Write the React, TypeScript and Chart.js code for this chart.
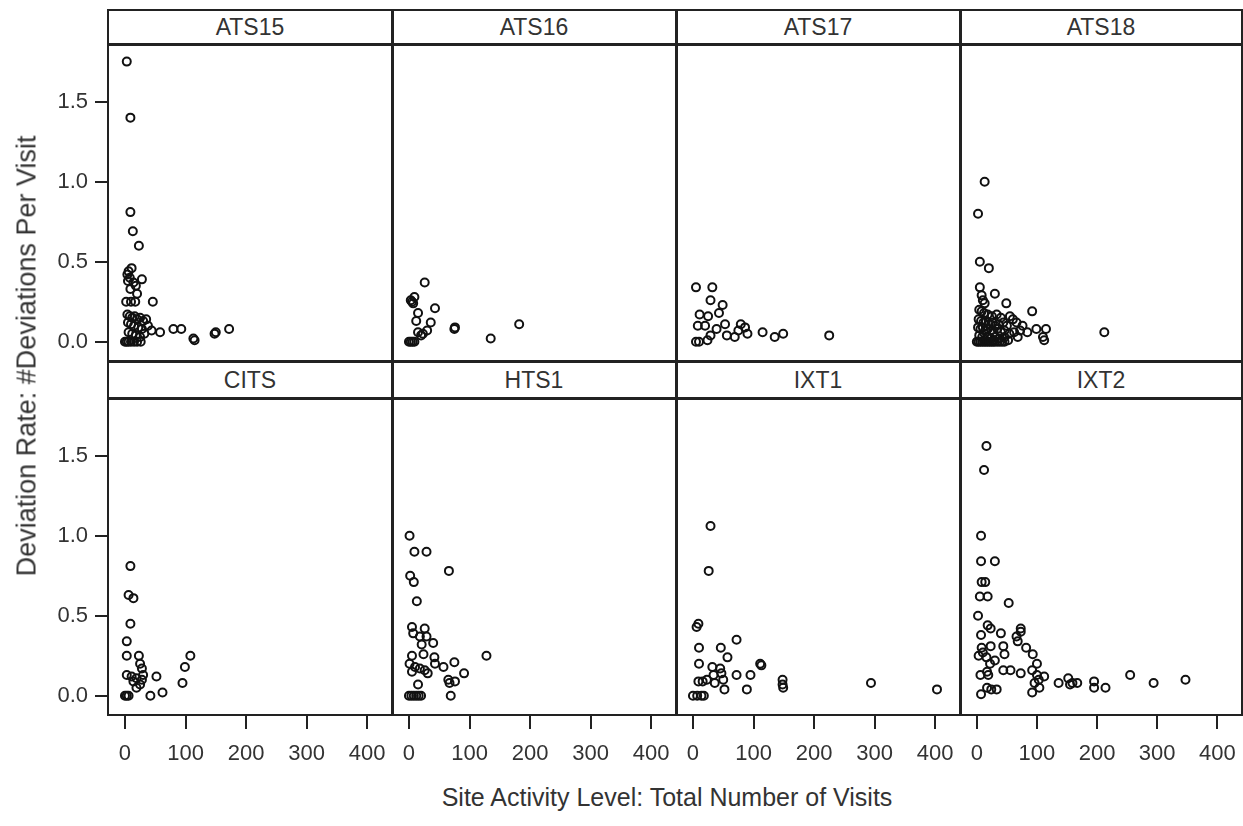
import React, { useEffect, useRef } from "react";
import { Chart, registerables } from "chart.js";

Chart.register(...registerables);

// ---------------- data ----------------
const panelNames = ["ATS15", "ATS16", "ATS17", "ATS18", "CITS", "HTS1", "IXT1", "IXT2"];
const xTicks = [0, 100, 200, 300, 400];
const yTicks = [0, 0.5, 1.0, 1.5];
const xTitle = "Site Activity Level: Total Number of Visits";
const yTitle = "Deviation Rate: #Deviations Per Visit";

// [total visits, deviations per visit]
const ats15: [number, number][] = [
  [3, 1.75], [9, 1.4], [9, 0.81], [13, 0.69], [23, 0.6],
  [11, 0.46], [6, 0.44], [4, 0.42], [8, 0.4], [5, 0.38], [14, 0.37], [28, 0.39], [18, 0.35], [9, 0.33], [20, 0.3],
  [2, 0.25], [10, 0.25], [17, 0.25], [46, 0.25],
  [4, 0.17], [8, 0.16], [12, 0.15], [16, 0.16], [20, 0.14], [25, 0.15], [30, 0.13], [35, 0.14],
  [5, 0.12], [10, 0.11], [15, 0.1], [22, 0.09], [28, 0.08], [38, 0.1], [44, 0.07], [58, 0.06], [80, 0.08], [93, 0.08],
  [6, 0.06], [12, 0.05], [18, 0.04], [25, 0.03], [32, 0.05],
  [115, 0.01], [113, 0.02], [148, 0.05], [150, 0.06], [172, 0.08],
  [0, 0], [3, 0], [6, 0], [10, 0], [15, 0], [20, 0], [26, 0],
];
const ats16: [number, number][] = [
  [26, 0.37], [9, 0.28], [3, 0.26], [5, 0.25], [7, 0.24], [43, 0.21], [15, 0.18], [12, 0.13], [36, 0.12],
  [15, 0.06], [23, 0.05], [30, 0.07], [20, 0.04], [75, 0.08], [76, 0.09], [135, 0.02], [182, 0.11],
  [0, 0], [3, 0], [6, 0], [9, 0],
];
const ats17: [number, number][] = [
  [5, 0.34], [32, 0.34], [29, 0.26], [49, 0.23], [43, 0.18], [11, 0.17], [25, 0.16],
  [8, 0.1], [20, 0.1], [39, 0.08], [53, 0.11], [79, 0.11], [86, 0.09], [90, 0.05], [75, 0.07],
  [56, 0.04], [69, 0.03], [29, 0.04], [115, 0.06], [135, 0.03], [149, 0.05], [225, 0.04],
  [5, 0], [10, 0], [24, 0.01],
];
const ats18: [number, number][] = [
  [13, 1.0], [2, 0.8], [5, 0.5], [20, 0.46], [5, 0.34], [30, 0.3], [8, 0.29], [10, 0.26], [13, 0.24], [49, 0.24], [92, 0.19],
  [4, 0.2], [8, 0.19], [12, 0.18], [18, 0.17], [25, 0.16], [33, 0.17], [40, 0.15], [55, 0.16], [60, 0.14],
  [3, 0.14], [7, 0.13], [11, 0.12], [15, 0.13], [20, 0.11], [26, 0.12], [30, 0.1], [36, 0.11], [44, 0.12], [50, 0.1], [66, 0.12], [76, 0.1],
  [2, 0.09], [6, 0.08], [10, 0.09], [14, 0.07], [18, 0.08], [24, 0.07], [28, 0.06], [34, 0.08], [40, 0.06], [46, 0.07],
  [54, 0.05], [62, 0.06], [72, 0.07], [84, 0.06], [99, 0.08], [115, 0.08], [112, 0.01], [110, 0.03], [68, 0.03],
  [4, 0.04], [9, 0.03], [13, 0.05], [19, 0.03], [23, 0.02], [30, 0.03], [38, 0.02], [46, 0.03], [52, 0.01],
  [0, 0], [3, 0], [6, 0], [9, 0], [12, 0], [15, 0], [18, 0], [21, 0], [24, 0], [27, 0], [30, 0], [34, 0], [38, 0], [42, 0], [46, 0],
  [212, 0.06],
];
const cits: [number, number][] = [
  [9, 0.81], [6, 0.63], [14, 0.61], [9, 0.45], [3, 0.34], [3, 0.25], [23, 0.25], [25, 0.2], [28, 0.17],
  [108, 0.25], [99, 0.18], [95, 0.08],
  [3, 0.13], [11, 0.12], [19, 0.11], [30, 0.13], [14, 0.09], [25, 0.07], [19, 0.05], [28, 0.1],
  [52, 0.12], [42, 0.0], [62, 0.02], [0, 0], [3, 0], [6, 0],
];
const hts1: [number, number][] = [
  [1, 1.0], [9, 0.9], [29, 0.9], [66, 0.78], [2, 0.75], [8, 0.71], [13, 0.59],
  [5, 0.43], [26, 0.42], [7, 0.39], [18, 0.37], [29, 0.37], [21, 0.32], [40, 0.33], [128, 0.25],
  [5, 0.25], [24, 0.26], [42, 0.24], [43, 0.2], [1, 0.2], [75, 0.21], [57, 0.18],
  [10, 0.18], [18, 0.17], [26, 0.16], [31, 0.14], [5, 0.15], [91, 0.14],
  [65, 0.1], [76, 0.09], [67, 0.08], [15, 0.07], [69, 0.0],
  [0, 0], [4, 0], [8, 0], [12, 0], [16, 0], [20, 0],
];
const ixt1: [number, number][] = [
  [29, 1.06], [26, 0.78], [9, 0.45], [6, 0.43], [72, 0.35], [10, 0.3], [46, 0.3], [57, 0.24], [10, 0.2],
  [32, 0.18], [45, 0.17], [47, 0.14], [34, 0.13], [23, 0.1], [16, 0.09], [9, 0.09],
  [111, 0.2], [113, 0.19], [72, 0.13], [95, 0.13], [36, 0.08], [52, 0.04], [89, 0.04], [50, 0.1],
  [148, 0.1], [148, 0.07], [149, 0.05], [294, 0.08], [403, 0.04],
  [0, 0], [7, 0], [14, 0], [18, 0],
];
const ixt2: [number, number][] = [
  [16, 1.56], [12, 1.41], [7, 1.0], [7, 0.84], [30, 0.84], [8, 0.71], [14, 0.71], [5, 0.62], [18, 0.62],
  [53, 0.58], [2, 0.5], [18, 0.44], [23, 0.42], [7, 0.38], [40, 0.39],
  [73, 0.42], [73, 0.4], [66, 0.37], [68, 0.34], [23, 0.31], [44, 0.31],
  [8, 0.3], [3, 0.25], [10, 0.27], [16, 0.24], [46, 0.26], [82, 0.3], [93, 0.26],
  [22, 0.2], [30, 0.22], [100, 0.2], [44, 0.16], [56, 0.16], [73, 0.14], [92, 0.16], [100, 0.13], [112, 0.12],
  [6, 0.13], [19, 0.13], [17, 0.15], [103, 0.1],
  [136, 0.08], [152, 0.11], [159, 0.08], [167, 0.08], [155, 0.07], [195, 0.09], [195, 0.05], [214, 0.05],
  [255, 0.13], [294, 0.08], [347, 0.1],
  [17, 0.05], [24, 0.04], [33, 0.04], [92, 0.02], [104, 0.05], [96, 0.08], [7, 0.01],
];
const panelPoints = [ats15, ats16, ats17, ats18, cits, hts1, ixt1, ixt2];

// ---------------- layout / style ----------------
const FONT = '"Liberation Sans", Arial, Helvetica, sans-serif';
const COL_EDGES = [108, 392, 676, 960, 1242];
const HEADER_TOP = [10, 362];
const PLOT_TOP = [44, 398];
const PLOT_H = 317;
const X_AXIS_H = 60;
const Y_AXIS_W = 108;
const X_MIN = -28;
const X_MAX = 441;
const Y_MIN = -0.12;
const Y_MAX = 1.86;
const LINE = "#222";

function Panel({ index }: { index: number }) {
  const ref = useRef<HTMLCanvasElement>(null);
  const r = Math.floor(index / 4);
  const c = index % 4;
  const hasY = c === 0;
  const hasX = r === 1;
  const plotLeft = COL_EDGES[c];
  const plotRight = COL_EDGES[c + 1];
  const left = hasY ? plotLeft - Y_AXIS_W : plotLeft;
  const width = plotRight - left;
  const top = PLOT_TOP[r];
  const height = PLOT_H + (hasX ? X_AXIS_H : 0);

  useEffect(() => {
    const pts = panelPoints[index];
    const chart = new Chart(ref.current as HTMLCanvasElement, {
      type: "scatter",
      data: {
        datasets: [
          {
            data: pts.map(([x, y]) => ({ x, y })),
            pointRadius: 4,
            pointBorderWidth: 2,
            pointBorderColor: "#111",
            pointBackgroundColor: "rgba(0,0,0,0)",
            borderColor: "#111",
            backgroundColor: "rgba(0,0,0,0)",
            showLine: false,
          },
        ],
      },
      options: {
        animation: false,
        responsive: false,
        devicePixelRatio: 1,
        events: [],
        layout: { padding: 0, autoPadding: false },
        plugins: { legend: { display: false }, tooltip: { enabled: false }, title: { display: false } },
        scales: {
          x: {
            type: "linear",
            min: X_MIN,
            max: X_MAX,
            display: hasX,
            afterBuildTicks: (s: any) => {
              s.ticks = xTicks.map((v) => ({ value: v }));
            },
            afterFit: (s: any) => {
              s.height = hasX ? X_AXIS_H : 0;
              s.paddingLeft = 0;
              s.paddingRight = 0;
              s.paddingTop = 0;
              s.paddingBottom = 0;
            },
            grid: {
              display: true,
              drawOnChartArea: false,
              drawTicks: true,
              tickLength: 14,
              tickWidth: 2,
              tickColor: LINE,
              color: LINE,
              lineWidth: 2,
            },
            border: { display: false },
            ticks: {
              padding: 12,
              color: "#333",
              font: { family: FONT, size: 22 },
              maxRotation: 0,
              autoSkip: false,
              callback: (v: any) => String(v),
            },
          },
          y: {
            type: "linear",
            min: Y_MIN,
            max: Y_MAX,
            display: hasY,
            afterBuildTicks: (s: any) => {
              s.ticks = yTicks.map((v) => ({ value: v }));
            },
            afterFit: (s: any) => {
              s.width = hasY ? Y_AXIS_W : 0;
              s.paddingLeft = 0;
              s.paddingRight = 0;
              s.paddingTop = 0;
              s.paddingBottom = 0;
            },
            grid: {
              display: true,
              drawOnChartArea: false,
              drawTicks: true,
              tickLength: 13,
              tickWidth: 2,
              tickColor: LINE,
              color: LINE,
              lineWidth: 2,
            },
            border: { display: false },
            ticks: {
              padding: 7,
              color: "#333",
              font: { family: FONT, size: 22 },
              autoSkip: false,
              callback: (v: any) => Number(v).toFixed(1),
            },
          },
        },
      },
    } as any);
    return () => chart.destroy();
  }, [index]);

  return (
    <canvas
      ref={ref}
      width={width}
      height={height}
      style={{ position: "absolute", left, top, width, height, display: "block" }}
    />
  );
}

function HLine({ y, t, x0, x1 }: { y: number; t: number; x0: number; x1: number }) {
  return (
    <div
      style={{
        position: "absolute",
        left: x0 - 1,
        top: y - t / 2,
        width: x1 - x0 + 2,
        height: t,
        background: LINE,
        zIndex: 2,
      }}
    />
  );
}

function VLine({ x, t, y0, y1 }: { x: number; t: number; y0: number; y1: number }) {
  return (
    <div
      style={{
        position: "absolute",
        left: x - t / 2,
        top: y0 - 1,
        width: t,
        height: y1 - y0 + 2,
        background: LINE,
        zIndex: 2,
      }}
    />
  );
}

export default function App() {
  const x0 = COL_EDGES[0];
  const x1 = COL_EDGES[4];
  const yTop = HEADER_TOP[0];
  const yBot = PLOT_TOP[1] + PLOT_H;
  return (
    <div
      style={{
        position: "absolute",
        left: 0,
        top: 0,
        width: 1243,
        height: 826,
        background: "#fff",
        overflow: "hidden",
        fontFamily: FONT,
      }}
    >
      {panelNames.map((_, i) => (
        <Panel key={i} index={i} />
      ))}
      {panelNames.map((name, i) => {
        const r = Math.floor(i / 4);
        const c = i % 4;
        return (
          <div
            key={"h" + i}
            style={{
              position: "absolute",
              left: COL_EDGES[c],
              top: HEADER_TOP[r],
              width: COL_EDGES[c + 1] - COL_EDGES[c],
              height: PLOT_TOP[r] - HEADER_TOP[r],
              display: "flex",
              alignItems: "center",
              justifyContent: "center",
              fontSize: 23,
              color: "#333",
              zIndex: 1,
            }}
          >
            {name}
          </div>
        );
      })}
      <HLine y={yTop} t={2} x0={x0} x1={x1} />
      <HLine y={PLOT_TOP[0]} t={3} x0={x0} x1={x1} />
      <HLine y={PLOT_TOP[0] + PLOT_H + 0.5} t={3} x0={x0} x1={x1} />
      <HLine y={PLOT_TOP[1]} t={3} x0={x0} x1={x1} />
      <HLine y={yBot} t={2} x0={x0} x1={x1} />
      <VLine x={COL_EDGES[0]} t={2} y0={yTop} y1={yBot} />
      <VLine x={COL_EDGES[1]} t={3} y0={yTop} y1={yBot} />
      <VLine x={COL_EDGES[2]} t={3} y0={yTop} y1={yBot} />
      <VLine x={COL_EDGES[3]} t={3} y0={yTop} y1={yBot} />
      <VLine x={COL_EDGES[4]} t={2} y0={yTop} y1={yBot} />
      <div
        style={{
          position: "absolute",
          left: 27,
          top: 356,
          transform: "translate(-50%, -50%) rotate(-90deg)",
          whiteSpace: "nowrap",
          fontSize: 27,
          color: "#333",
        }}
      >
        {yTitle}
      </div>
      <div
        style={{
          position: "absolute",
          left: 667,
          top: 797,
          transform: "translate(-50%, -50%)",
          whiteSpace: "nowrap",
          fontSize: 25,
          color: "#333",
        }}
      >
        {xTitle}
      </div>
    </div>
  );
}
